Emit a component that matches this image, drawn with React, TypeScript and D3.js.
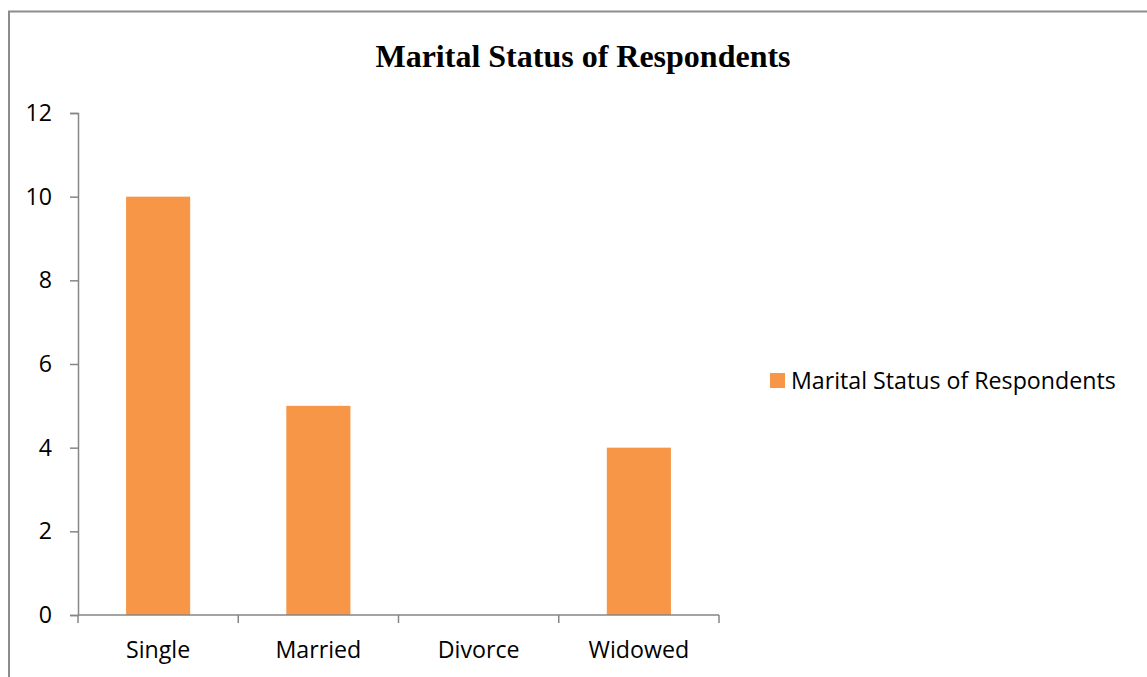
import React, { useEffect, useRef } from 'react';
import * as d3 from 'd3';

const categories = ['Single', 'Married', 'Divorce', 'Widowed'];
const values = [10, 5, 0, 4];
const yTicks = [0, 2, 4, 6, 8, 10, 12];
const seriesName = 'Marital Status of Respondents';
const title = 'Marital Status of Respondents';

const App = () => {
  const svgRef = useRef<SVGSVGElement>(null);

  useEffect(() => {
    const svg = d3.select(svgRef.current);
    svg.selectAll('*').remove();

    const width = 1147;
    const height = 677;
    const axisColor = '#868686';
    const barColor = '#F79646';
    const bodyFont = '"Open Sans", Lato, sans-serif';
    const fontSize = 23.2;

    // chart frame (right and bottom run off the page)
    svg.append('path')
      .attr('d', `M9,${height + 5} V11.5 H${width + 5}`)
      .attr('fill', 'none')
      .attr('stroke', '#8c8c8c')
      .attr('stroke-width', 2);

    svg.append('text')
      .attr('x', 583)
      .attr('y', 67)
      .attr('text-anchor', 'middle')
      .attr('font-family', '"Liberation Serif", "Times New Roman", serif')
      .attr('font-weight', 'bold')
      .attr('font-size', 32)
      .text(title);

    const x = d3.scaleBand()
      .domain(categories)
      .range([78, 719])
      .paddingInner(0.6)
      .paddingOuter(0.3);

    const y = d3.scaleLinear().domain([0, 12]).range([615, 113]);

    // y axis
    const yAxis = svg.append('g')
      .attr('transform', 'translate(78,0)')
      .call(d3.axisLeft(y).tickValues(yTicks).tickSize(8).tickPadding(18));
    yAxis.select('.domain').attr('stroke', axisColor).attr('stroke-width', 1.5);
    yAxis.selectAll('.tick line').attr('stroke', axisColor).attr('stroke-width', 1.5);
    yAxis.selectAll('.tick text')
      .attr('font-family', bodyFont)
      .attr('font-size', fontSize)
      .attr('fill', '#000');

    // bars
    svg.append('g')
      .selectAll('rect')
      .data(values)
      .enter()
      .append('rect')
      .attr('x', (d, i) => x(categories[i]) as number)
      .attr('y', (d) => y(d))
      .attr('width', x.bandwidth())
      .attr('height', (d) => y(0) - y(d))
      .attr('fill', barColor);

    // x axis line with boundary ticks
    const step = x.step();
    const boundaries = d3.range(categories.length + 1).map((i) => 78 + i * step);
    svg.append('line')
      .attr('x1', 78).attr('x2', 719)
      .attr('y1', 615).attr('y2', 615)
      .attr('stroke', axisColor).attr('stroke-width', 1.5);
    svg.append('g')
      .selectAll('line')
      .data(boundaries)
      .enter()
      .append('line')
      .attr('x1', (d) => d).attr('x2', (d) => d)
      .attr('y1', 615).attr('y2', 623)
      .attr('stroke', axisColor).attr('stroke-width', 1.5);
    svg.append('g')
      .selectAll('text')
      .data(categories)
      .enter()
      .append('text')
      .attr('x', (d) => (x(d) as number) + x.bandwidth() / 2)
      .attr('y', 658)
      .attr('text-anchor', 'middle')
      .attr('font-family', bodyFont)
      .attr('font-size', fontSize)
      .text((d) => d);

    // legend
    const legend = svg.append('g').attr('transform', 'translate(770,373)');
    legend.append('rect').attr('width', 15).attr('height', 15).attr('fill', barColor);
    legend.append('text')
      .attr('x', 21)
      .attr('y', 16)
      .attr('font-family', bodyFont)
      .attr('font-size', fontSize)
      .text(seriesName);
  }, []);

  return (
    <svg
      ref={svgRef}
      width={1147}
      height={677}
      style={{ position: 'absolute', left: 0, top: 0, background: '#fff' }}
    />
  );
};

export default App;
